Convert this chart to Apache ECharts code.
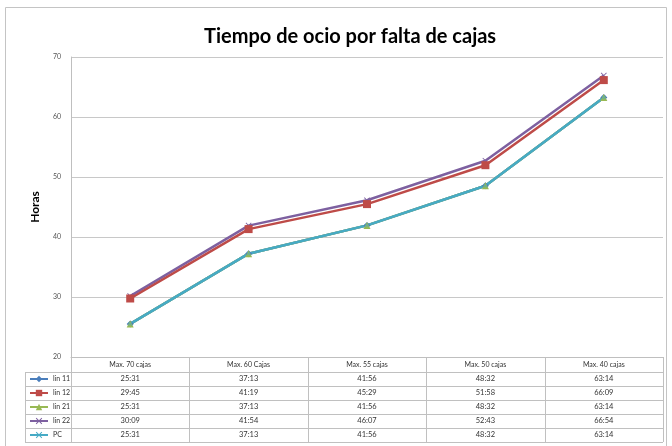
<!DOCTYPE html>
<html>
<head>
<meta charset="utf-8">
<script src="https://cdn.jsdelivr.net/npm/echarts@6/dist/echarts.min.js"></script>
<style>
  html, body { margin: 0; padding: 0; background: #fff; }
  #chart { width: 672px; height: 446px; }
</style>
</head>
<body>
<div id="chart"></div>
<script>
// categorías del eje X
const categories = ['Max. 70 cajas', 'Max. 60 Cajas', 'Max. 55 cajas', 'Max. 50 cajas', 'Max. 40 cajas']
// valores de la tabla (horas:minutos)
const lin11 = ['25:31', '37:13', '41:56', '48:32', '63:14']
const lin12 = ['29:45', '41:19', '45:29', '51:58', '66:09']
const lin21 = ['25:31', '37:13', '41:56', '48:32', '63:14']
const lin22 = ['30:09', '41:54', '46:07', '52:43', '66:54']
const pc = ['25:31', '37:13', '41:56', '48:32', '63:14']
const seriesNames = ['lin 11', 'lin 12', 'lin 21', 'lin 22', 'PC']
const yTicks = [20, 30, 40, 50, 60, 70]

const rows = [lin11, lin12, lin21, lin22, pc]
const colors = ['#4a7ebb', '#be4b48', '#98b954', '#7d60a0', '#46aac5']
const xMark = 'path://M0,1L1,0L5,4L9,0L10,1L6,5L10,9L9,10L5,6L1,10L0,9L4,5Z'
const symbols = ['diamond', 'rect', 'triangle', xMark, xMark]
const symbolSizes = [7, 8, 7, 6, 4]
const font = 'Lato, "Open Sans", sans-serif'

const toHours = s => {
  const [h, m] = s.split(':').map(Number)
  return h + m / 60
}

const gridLeft = 71
const gridRight = 9
const gridTop = 57
const gridBottom = 89
const headerH = 15
const rowH = 14
const keyLeft = 25

const mChart = echarts.init(document.getElementById('chart'))

const option = {
  animation: false,
  backgroundColor: '#fff',
  title: {
    text: 'Tiempo de ocio por falta de cajas',
    left: 199,
    top: 22,
    textStyle: { fontFamily: font, fontSize: 20, fontWeight: 'bold', color: '#000' }
  },
  legend: {
    orient: 'vertical',
    left: keyLeft + 4,
    top: 446 - gridBottom + headerH + 3,
    padding: 0,
    itemWidth: 18,
    itemHeight: 8,
    itemGap: 6,
    data: seriesNames,
    textStyle: { fontFamily: font, fontSize: 7, color: '#333', lineHeight: 8 }
  },
  grid: { left: gridLeft, right: gridRight, top: gridTop, bottom: gridBottom },
  xAxis: {
    type: 'category',
    data: categories,
    axisLine: { lineStyle: { color: '#bfbfbf' } },
    axisTick: { show: false },
    axisLabel: { fontFamily: font, fontSize: 7, color: '#333', margin: 4 }
  },
  yAxis: {
    type: 'value',
    min: yTicks[0],
    max: yTicks[yTicks.length - 1],
    interval: 10,
    name: 'Horas',
    nameLocation: 'middle',
    nameGap: 30,
    nameTextStyle: { fontFamily: font, fontSize: 12, fontWeight: 'bold', color: '#000' },
    axisLine: { show: true, lineStyle: { color: '#bfbfbf' } },
    axisTick: { show: false },
    axisLabel: { fontFamily: font, fontSize: 7, color: '#555', margin: 10 },
    splitLine: { lineStyle: { color: '#c8c8c8', width: 1 } }
  },
  series: rows.map((r, i) => ({
    name: seriesNames[i],
    type: 'line',
    data: r.map(toHours),
    symbol: symbols[i],
    symbolSize: symbolSizes[i],
    z: i === 1 ? 4 : 2,
    lineStyle: { width: 2.5, color: colors[i] },
    itemStyle: { color: colors[i] }
  }))
}
mChart.setOption(option)

// tabla de datos debajo del gráfico
function buildTable() {
  const top = 446 - gridBottom
  const right = 672 - gridRight
  const colW = (right - gridLeft) / categories.length
  const lineStyle = { stroke: '#c0c0c0', lineWidth: 1 }
  const els = []
  const bottom = top + headerH + rowH * rows.length
  // líneas horizontales
  els.push({ type: 'line', shape: { x1: gridLeft, y1: top + 0.5, x2: right, y2: top + 0.5 }, style: lineStyle })
  for (let r = 0; r <= rows.length; r++) {
    const y = Math.round(top + headerH + r * rowH) + 0.5
    els.push({ type: 'line', shape: { x1: keyLeft, y1: y, x2: right, y2: y }, style: lineStyle })
  }
  // líneas verticales
  els.push({ type: 'line', shape: { x1: keyLeft + 0.5, y1: top + headerH, x2: keyLeft + 0.5, y2: bottom }, style: lineStyle })
  for (let c = 0; c <= categories.length; c++) {
    const x = Math.round(gridLeft + c * colW) + 0.5
    els.push({ type: 'line', shape: { x1: x, y1: top, x2: x, y2: bottom }, style: lineStyle })
  }
  // valores
  rows.forEach((r, ri) => {
    r.forEach((v, ci) => {
      const x = mChart.convertToPixel({ xAxisIndex: 0 }, ci)
      els.push({
        type: 'text',
        x: x,
        y: top + headerH + ri * rowH + rowH / 2,
        style: { text: v, fontFamily: font, fontSize: 7.5, fill: '#333', align: 'center', verticalAlign: 'middle' }
      })
    })
  })
  // marco exterior
  els.push({
    type: 'rect',
    shape: { x: 5.5, y: 7.5, width: 661, height: 445 },
    style: { fill: 'none', stroke: '#c4c4c4', lineWidth: 1 },
    silent: true
  })
  mChart.setOption({ graphic: els })
}
buildTable()
</script>
</body>
</html>
